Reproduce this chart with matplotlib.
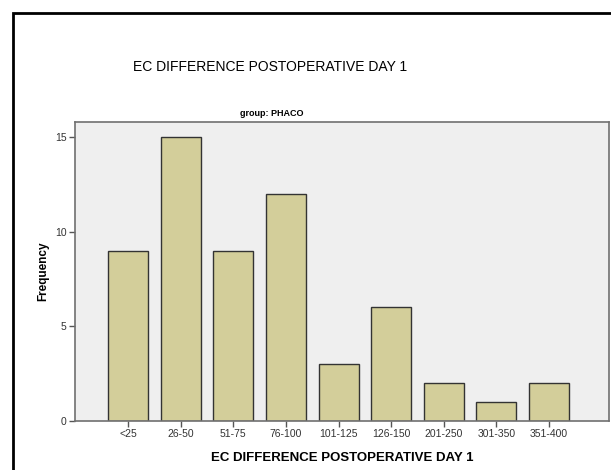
import matplotlib
matplotlib.use("Agg")
import matplotlib.pyplot as plt
from matplotlib.patches import Rectangle

# --- data ---
categories = ['<25', '26-50', '51-75', '76-100', '101-125', '126-150',
              '201-250', '301-350', '351-400']
frequency = [9, 15, 9, 12, 3, 6, 2, 1, 2]

plt.rcParams['font.family'] = ['Liberation Sans', 'DejaVu Sans']

fig = plt.figure(figsize=(6.11, 4.70), dpi=100)
fig.patch.set_facecolor('white')

# outer black frame (left + top visible, rest cut off)
fig.add_artist(Rectangle((12.5 / 611, -0.1), 1.2, 1.1 - 12.5 / 470,
                         transform=fig.transFigure, fill=False,
                         edgecolor='black', lw=2))

ax = fig.add_axes([75 / 611, 49 / 470, 534 / 611, 299 / 470])
ax.set_facecolor('#efefef')

x = range(len(categories))
ax.bar(x, frequency, width=0.76, color='#d3ce9a', edgecolor='#333333',
       linewidth=1.0, zorder=2)

ax.set_xlim(-1.01, 9.14)
ax.set_ylim(0, 15.8)
ax.set_xticks(list(x))
ax.set_xticklabels(categories, fontsize=7.5, color='#333333')
ax.set_yticks([0, 5, 10, 15])
ax.set_yticklabels(['0', '5', '10', '15'], fontsize=7.5, color='#333333')
ax.tick_params(axis='both', direction='out', length=4, width=1,
               color='#555555', pad=2)

for s in ax.spines.values():
    s.set_color('#707070')
    s.set_linewidth(1.2)

ax.set_ylabel('Frequency', fontsize=8.5, fontweight='bold', labelpad=4)
ax.set_xlabel('EC DIFFERENCE POSTOPERATIVE DAY 1', fontsize=9.5,
              fontweight='bold', labelpad=9)

fig.text(270 / 611, 1 - 67 / 470, 'EC DIFFERENCE POSTOPERATIVE DAY 1',
         ha='center', va='center', fontsize=10)
fig.text(272 / 611, 1 - 113 / 470, 'group: PHACO', ha='center', va='center',
         fontsize=6.5, fontweight='bold')

fig.savefig('out.png', dpi=100)
